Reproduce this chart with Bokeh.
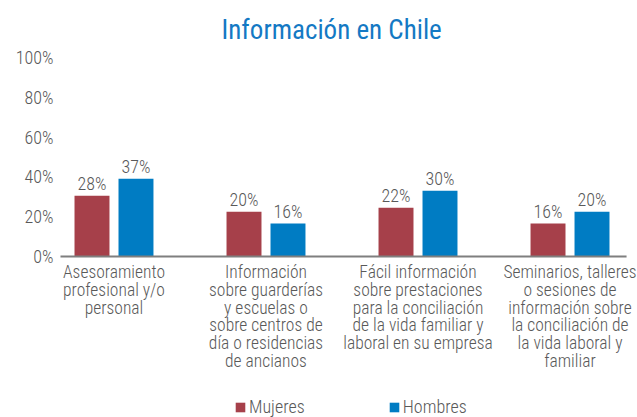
from bokeh.plotting import figure
from bokeh.models import ColumnDataSource, FactorRange, Range1d, Legend, LegendItem, FixedTicker
from bokeh.transform import dodge
from bokeh.core.properties import value
from bokeh.embed import file_html
from bokeh.resources import INLINE

# ---- data ----
chart_title = "Información en Chile"
categories = [
    "Asesoramiento\nprofesional y/o\npersonal",
    "Información\nsobre guarderías\ny escuelas o\nsobre centros de\ndía o residencias\nde ancianos",
    "Fácil información\nsobre prestaciones\npara la conciliación\nde la vida familiar y\nlaboral en su empresa",
    "Seminarios, talleres\no sesiones de\ninformación sobre\nla conciliación de\nla vida laboral y\nfamiliar",
]
series_names = ["Mujeres", "Hombres"]
mujeres = [30.5, 22.5, 24.5, 16.5]
hombres = [39.0, 16.5, 33.0, 22.5]
mujeres_labels = ["28%", "20%", "22%", "16%"]
hombres_labels = ["37%", "16%", "30%", "20%"]
y_ticks = [0, 20, 40, 60, 80, 100]
y_tick_labels = ["0%", "20%", "40%", "60%", "80%", "100%"]

# ---- style ----
FONT = "'Roboto Condensed Light', 'Roboto Condensed', 'Liberation Sans Narrow', Roboto, sans-serif"
TFONT = "'Roboto Condensed', 'Liberation Sans Narrow', Roboto, sans-serif"
GRAY = "#595959"
RED = "#A6404A"
BLUE = "#007CC3"
TITLE_BLUE = "#1479C4"

source = ColumnDataSource(dict(
    cat=categories,
    mujeres=mujeres,
    hombres=hombres,
    mlab=mujeres_labels,
    hlab=hombres_labels,
))

x_range = FactorRange(factors=categories, range_padding=-0.028, range_padding_units="percent")

# y range extends below zero so that the category labels and legend sit inside the frame
p = figure(
    x_range=x_range,
    y_range=Range1d(-81, 100),
    width=637, height=417,
    output_backend="svg",
    toolbar_location=None,
    min_border_left=46, min_border_right=0,
    min_border_top=55, min_border_bottom=0,
)
p.background_fill_color = "white"
p.border_fill_color = "white"
p.outline_line_color = None
p.xgrid.grid_line_color = None
p.ygrid.grid_line_color = None
p.xaxis.visible = False

p.title.text = chart_title
p.title.align = "left"
p.title.offset = 175
p.title.vertical_align = "bottom"
p.title.text_font = TFONT
p.title.text_font_size = "27px"
p.title.text_font_style = "normal"
p.title.text_color = TITLE_BLUE
p.title.standoff = 23

off = 0.1447
w = 0.230
r1 = p.vbar(x=dodge("cat", -off, range=x_range), top="mujeres", bottom=0, width=w, source=source,
            fill_color=RED, line_color=None)
r2 = p.vbar(x=dodge("cat", off, range=x_range), top="hombres", bottom=0, width=w, source=source,
            fill_color=BLUE, line_color=None)

# baseline (category axis line), running from just before the first category to just after the last
base = ColumnDataSource(dict(first=[categories[0]], last=[categories[-1]], zero=[0]))
p.segment(x0=dodge("first", -0.352, range=x_range), x1=dodge("last", 0.372, range=x_range),
          y0="zero", y1="zero", source=base, line_color="#7F7F7F", line_width=2)

# value labels
p.text(x=dodge("cat", -off, range=x_range), y="mujeres", text="mlab", source=source,
       text_align="center", text_baseline="bottom", y_offset=-2,
       text_font=value(FONT), text_font_size="18px", text_color=GRAY)
p.text(x=dodge("cat", off, range=x_range), y="hombres", text="hlab", source=source,
       text_align="center", text_baseline="bottom", y_offset=-2,
       text_font=value(FONT), text_font_size="18px", text_color=GRAY)

# category labels under the baseline
p.text(x="cat", y=0, text="cat", source=source,
       text_align="center", text_baseline="top", y_offset=6,
       text_font=value(FONT), text_font_size="17.5px", text_color=GRAY,
       text_line_height=0.885)

# y axis
p.yaxis.ticker = FixedTicker(ticks=y_ticks)
p.yaxis.major_label_overrides = {t: l for t, l in zip(y_ticks, y_tick_labels)}
p.yaxis.axis_line_color = None
p.yaxis.major_tick_line_color = None
p.yaxis.minor_tick_line_color = None
p.yaxis.major_tick_out = 0
p.yaxis.major_tick_in = 0
p.yaxis.major_label_standoff = -7
p.yaxis.major_label_text_font = FONT
p.yaxis.major_label_text_font_size = "18px"
p.yaxis.major_label_text_color = GRAY

legend = Legend(
    items=[LegendItem(label=series_names[0], renderers=[r1]),
           LegendItem(label=series_names[1], renderers=[r2])],
    orientation="horizontal",
    location=(188, 0),
    glyph_width=12, glyph_height=12,
    label_standoff=3, spacing=83,
    padding=0, margin=0,
    border_line_color=None,
    background_fill_alpha=0,
    label_text_font=FONT,
    label_text_font_size="18px",
    label_text_color=GRAY,
)
p.add_layout(legend, "center")

open("out.html", "w").write(file_html(p, INLINE))
